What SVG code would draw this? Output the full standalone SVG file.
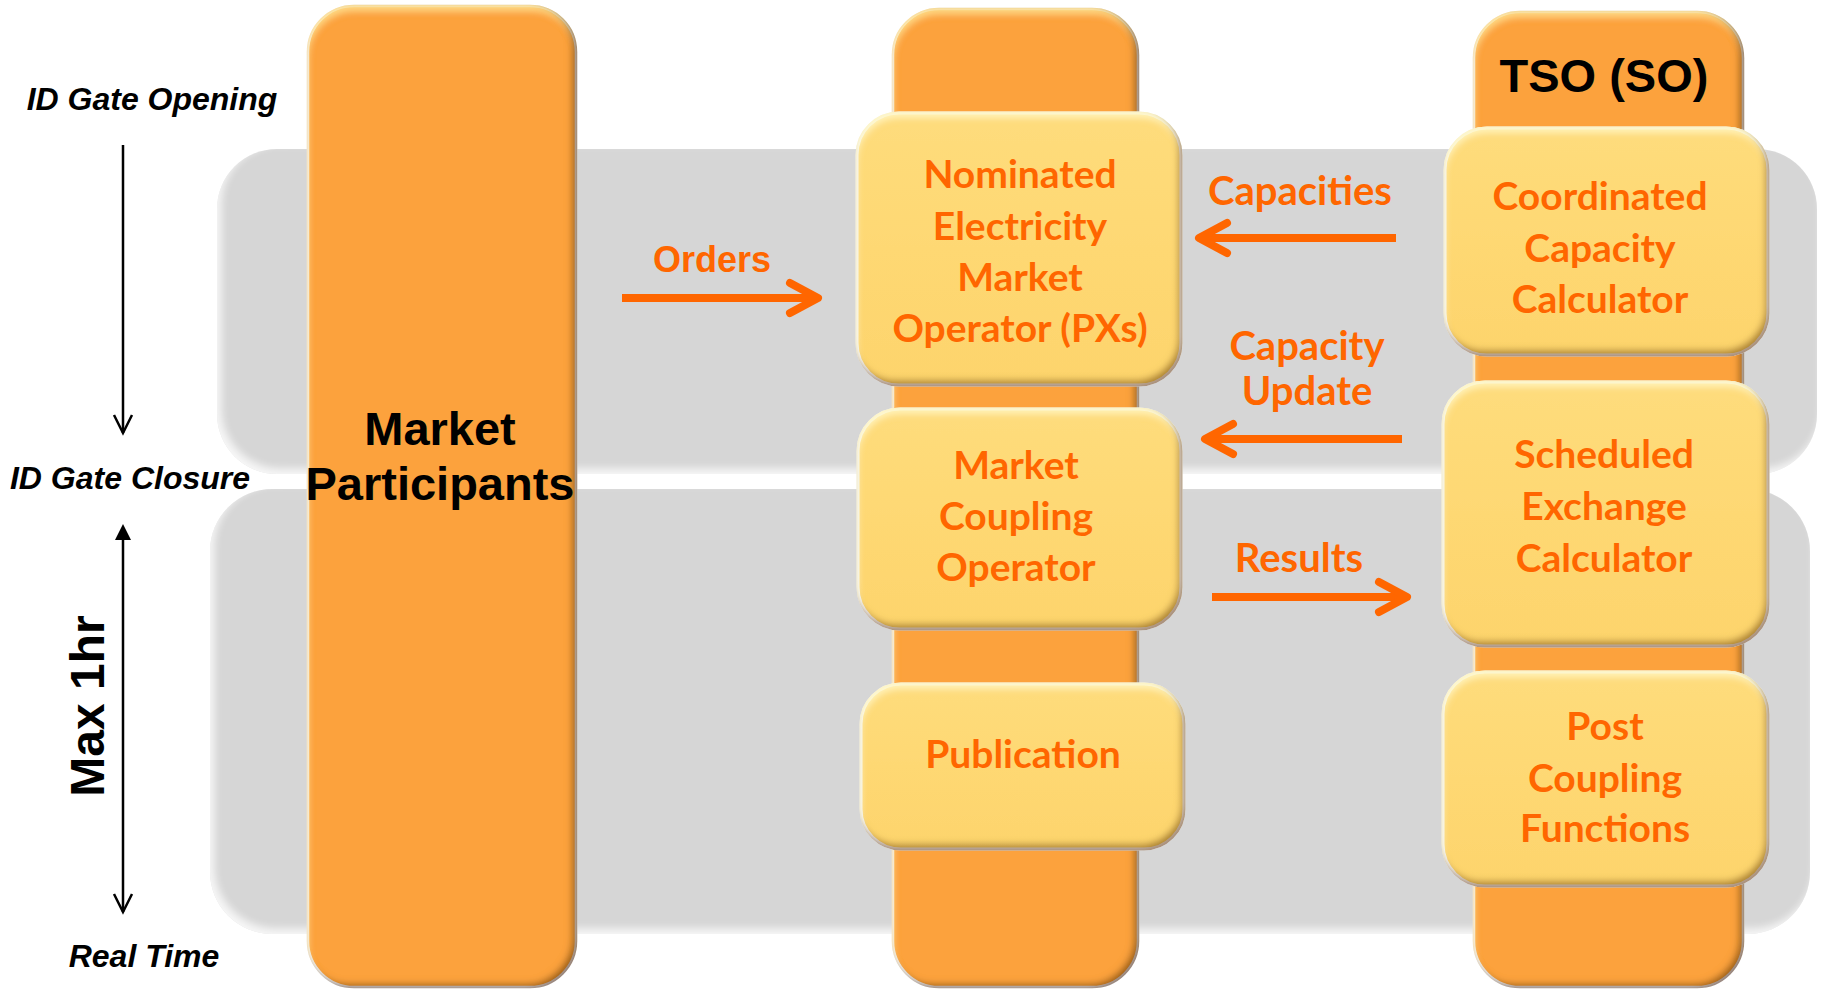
<svg xmlns="http://www.w3.org/2000/svg" width="1824" height="989" viewBox="0 0 1824 989">
<style>
.col{fill:#FCA23C;stroke:#f2f2f2;stroke-width:2.5;filter:url(#bevCol)}
.box{fill:url(#yel);stroke:#f7f7f7;stroke-width:3;filter:url(#bevBox)}
.band{fill:#D6D6D6;filter:url(#bevBand)}
.bt{font-family:Lato,"Open Sans",sans-serif;font-weight:700;font-size:39px;fill:#FF6600;text-anchor:middle}
.lbl{font-family:Lato,"Open Sans",sans-serif;font-weight:700;font-size:40px;fill:#FF6600;text-anchor:middle}
.blk{font-family:"Liberation Sans",Arial,sans-serif;font-weight:700;fill:#000;text-anchor:middle}
.ital{font-family:"Liberation Sans",Arial,sans-serif;font-weight:700;font-style:italic;font-size:32px;fill:#000;text-anchor:middle}
.oarr{fill:none;stroke:#FF6600;stroke-width:8;marker-end:url(#oHead)}
.karr{fill:none;stroke:#000;stroke-width:2.5}
</style>
<defs>
<linearGradient id="yel" x1="0" y1="0" x2="0" y2="1">
<stop offset="0" stop-color="#FEDC7C"/>
<stop offset="0.5" stop-color="#FED873"/>
<stop offset="1" stop-color="#FDD46C"/>
</linearGradient>
<filter id="bevBox" x="-0.1" y="-0.1" width="1.2" height="1.2">
<feComponentTransfer in="SourceAlpha" result="inv"><feFuncA type="table" tableValues="1 0"/></feComponentTransfer>
<feGaussianBlur in="inv" stdDeviation="3.5" result="ib"/>
<feOffset in="ib" dx="-4" dy="-6" result="ibd"/>
<feFlood flood-color="#8A5A00" flood-opacity="0.8"/>
<feComposite in2="ibd" operator="in" result="dark"/>
<feComposite in="dark" in2="SourceAlpha" operator="in" result="darkIn"/>
<feOffset in="ib" dx="1" dy="6" result="ibl"/>
<feFlood flood-color="#FFF6C0" flood-opacity="0.9"/>
<feComposite in2="ibl" operator="in" result="light"/>
<feComposite in="light" in2="SourceAlpha" operator="in" result="lightIn"/>
<feMerge><feMergeNode in="SourceGraphic"/><feMergeNode in="lightIn"/><feMergeNode in="darkIn"/></feMerge>
</filter>
<filter id="bevCol" x="-0.1" y="-0.05" width="1.2" height="1.1">
<feComponentTransfer in="SourceAlpha" result="inv"><feFuncA type="table" tableValues="1 0"/></feComponentTransfer>
<feGaussianBlur in="inv" stdDeviation="3.5" result="ib"/>
<feOffset in="ib" dx="-5" dy="-4" result="ibd"/>
<feFlood flood-color="#6A3A00" flood-opacity="0.8"/>
<feComposite in2="ibd" operator="in" result="dark"/>
<feComposite in="dark" in2="SourceAlpha" operator="in" result="darkIn"/>
<feOffset in="ib" dx="1" dy="6" result="ibl"/>
<feFlood flood-color="#FFE08A" flood-opacity="0.9"/>
<feComposite in2="ibl" operator="in" result="light"/>
<feComposite in="light" in2="SourceAlpha" operator="in" result="lightIn"/>
<feMerge><feMergeNode in="SourceGraphic"/><feMergeNode in="lightIn"/><feMergeNode in="darkIn"/></feMerge>
</filter>
<filter id="bevBand" x="-0.05" y="-0.1" width="1.1" height="1.2">
<feComponentTransfer in="SourceAlpha" result="inv"><feFuncA type="table" tableValues="1 0"/></feComponentTransfer>
<feGaussianBlur in="inv" stdDeviation="4" result="ib"/>
<feOffset in="ib" dx="4" dy="-5" result="ibl"/>
<feFlood flood-color="#FFFFFF" flood-opacity="0.8"/>
<feComposite in2="ibl" operator="in" result="light"/>
<feComposite in="light" in2="SourceAlpha" operator="in" result="lightIn"/>
<feMerge><feMergeNode in="SourceGraphic"/><feMergeNode in="lightIn"/></feMerge>
</filter>
<marker id="oHead" markerUnits="userSpaceOnUse" viewBox="-40 -24 50 48" markerWidth="50" markerHeight="48" refX="0" refY="0" orient="auto" overflow="visible">
<path d="M-28 -15 L0 0 L-28 15" fill="none" stroke="#FF6600" stroke-width="8" stroke-linecap="round" stroke-linejoin="round"/>
</marker>
<marker id="kOpen" markerUnits="userSpaceOnUse" viewBox="-24 -12 28 24" markerWidth="28" markerHeight="24" refX="0" refY="0" orient="auto" overflow="visible">
<path d="M-18 -9 L0 0 L-18 9" fill="none" stroke="#000" stroke-width="2.5"/>
</marker>
<marker id="kFill" markerUnits="userSpaceOnUse" viewBox="-20 -10 24 20" markerWidth="24" markerHeight="20" refX="-6" refY="0" orient="auto-start-reverse" overflow="visible">
<path d="M-16 -8 L0 0 L-16 8 Z" fill="#000"/>
</marker>
</defs>
<rect width="1824" height="989" fill="#FFFFFF"/>

<g id="bands">
<rect class="band" x="217" y="149" width="1600" height="325" rx="60"/>
<rect class="band" x="210" y="489" width="1600" height="445" rx="62"/>
</g>

<g id="timeline">
<text class="ital" x="152" y="110">ID Gate Opening</text>
<text class="ital" x="130" y="489">ID Gate Closure</text>
<text class="ital" x="144" y="967">Real Time</text>
<text class="blk" font-size="48" transform="translate(104 706) rotate(-90)">Max 1hr</text>
<path class="karr" d="M123 145 V433" marker-end="url(#kOpen)"/>
<path class="karr" d="M123 530 V912" marker-start="url(#kFill)" marker-end="url(#kOpen)"/>
</g>

<g id="col-market-participants">
<rect class="col" x="308" y="6" width="268" height="981" rx="46"/>
<text class="blk" font-size="47" x="440" y="445">Market</text>
<text class="blk" font-size="47" x="440" y="500">Participants</text>
</g>

<g id="col-middle">
<rect class="col" x="893" y="9" width="245" height="978" rx="46"/>
</g>

<g id="col-tso">
<rect class="col" x="1474" y="12" width="269" height="975" rx="46"/>
<text class="blk" font-size="47" x="1604" y="92">TSO (SO)</text>
</g>

<g id="nemo">
<rect class="box" x="857" y="113" width="324" height="272" rx="42"/>
<text class="bt" x="1020" y="188">Nominated</text>
<text class="bt" x="1020" y="240">Electricity</text>
<text class="bt" x="1020" y="291">Market</text>
<text class="bt" x="1020" y="342">Operator (PXs)</text>
</g>

<g id="mco">
<rect class="box" x="858" y="409" width="323" height="220" rx="42"/>
<text class="bt" x="1016" y="479">Market</text>
<text class="bt" x="1016" y="530">Coupling</text>
<text class="bt" x="1016" y="581">Operator</text>
</g>

<g id="publication">
<rect class="box" x="861" y="684" width="323" height="165" rx="40"/>
<text class="bt" x="1023" y="768">Publication</text>
</g>

<g id="ccc">
<rect class="box" x="1445" y="128" width="323" height="227" rx="42"/>
<text class="bt" x="1600" y="210">Coordinated</text>
<text class="bt" x="1600" y="262">Capacity</text>
<text class="bt" x="1600" y="313">Calculator</text>
</g>

<g id="sec">
<rect class="box" x="1443" y="382" width="325" height="264" rx="42"/>
<text class="bt" x="1604" y="468">Scheduled</text>
<text class="bt" x="1604" y="520">Exchange</text>
<text class="bt" x="1604" y="572">Calculator</text>
</g>

<g id="pcf">
<rect class="box" x="1443" y="672" width="325" height="214" rx="42"/>
<text class="bt" x="1605" y="740">Post</text>
<text class="bt" x="1605" y="792">Coupling</text>
<text class="bt" x="1605" y="842">Functions</text>
</g>

<g id="connectors">
<path class="oarr" d="M622 298 H818"/>
<text class="blk" font-size="36" style="fill:#FF6600" x="712" y="272">Orders</text>
<path class="oarr" d="M1396 238 H1199"/>
<text class="lbl" x="1300" y="205">Capacities</text>
<path class="oarr" d="M1402 439 H1205"/>
<text class="lbl" x="1307" y="360">Capacity</text>
<text class="lbl" x="1307" y="405">Update</text>
<path class="oarr" d="M1212 597 H1407"/>
<text class="lbl" x="1299" y="572">Results</text>
</g>
</svg>
